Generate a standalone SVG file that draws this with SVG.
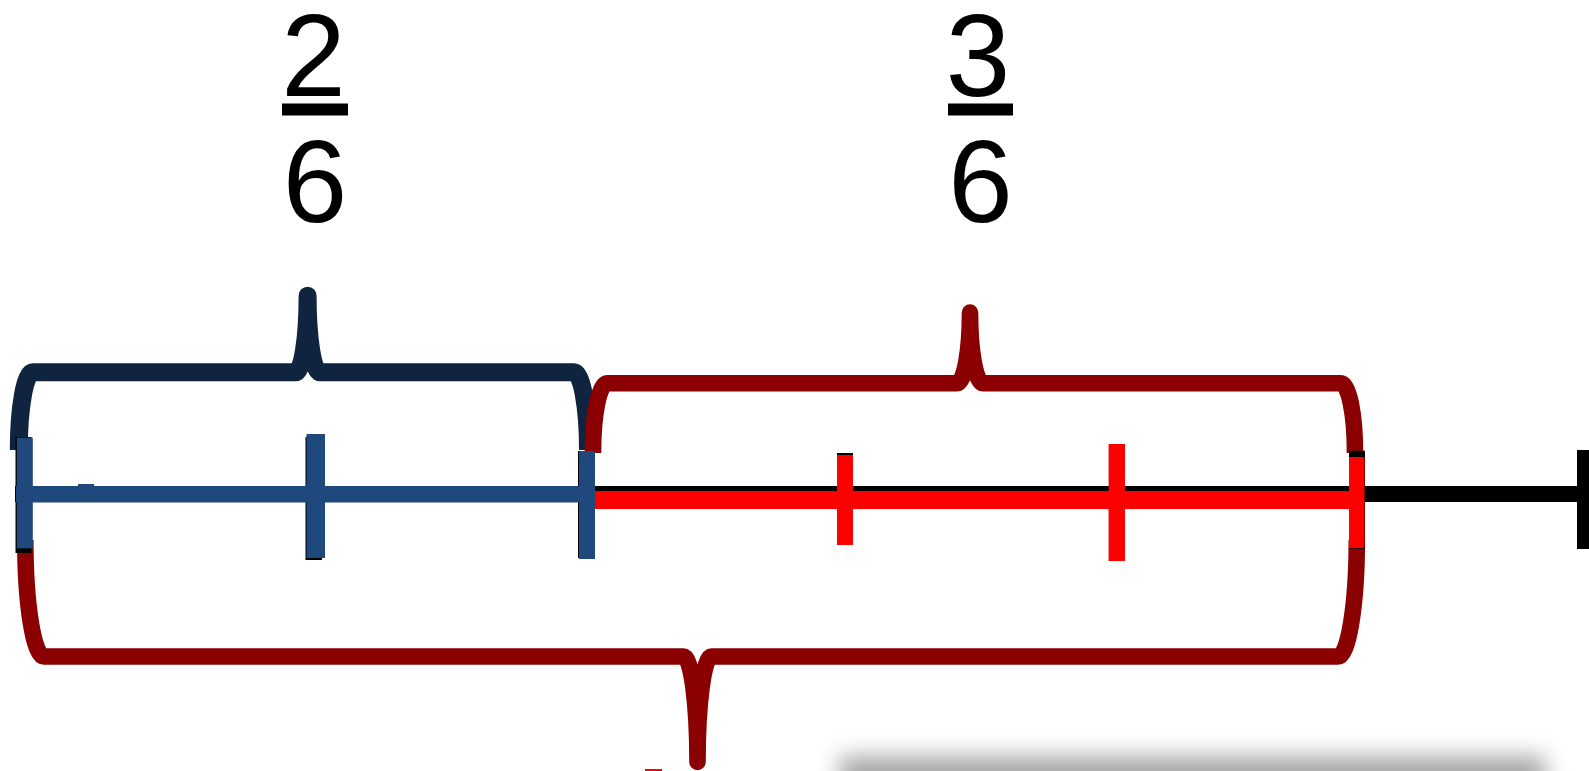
<svg xmlns="http://www.w3.org/2000/svg" width="1589" height="771" viewBox="0 0 1589 771">
<style>
.frac{font-family:"Liberation Sans",Arial,sans-serif;font-size:116px;fill:#000;text-anchor:middle}
.brace{fill:none;stroke-linejoin:round;stroke-linecap:butt}
.navy{stroke:#10243F;stroke-width:18}
.dred{stroke:#8B0000;stroke-width:16.6}
.blk{fill:#000}
.blu{fill:#1F497D}
.red{fill:#FF0000}
</style>
<defs>
<filter id="sh" x="-20%" y="-200%" width="140%" height="500%"><feGaussianBlur stdDeviation="11"/></filter>
</defs>
<rect width="1589" height="771" fill="#fff"/>
<g id="shadow"><rect x="840" y="756" width="705" height="50" fill="#6e6e6e" opacity="0.6" filter="url(#sh)"/></g>
<g id="label-2-6">
<text class="frac" x="313.5" y="96">2</text>
<rect x="282" y="103.5" width="66" height="12" fill="#000"/>
<text class="frac" x="315" y="222">6</text>
</g>
<g id="label-3-6">
<text class="frac" x="978" y="96">3</text>
<rect x="948" y="103.5" width="65" height="12" fill="#000"/>
<text class="frac" x="980.5" y="222">6</text>
</g>
<g id="connectors">
<path id="brace-bottom" class="brace dred" d="M25.3 540 A18.7 116.5 0 0 0 44 656.5 H683.5 A14 105.5 0 0 1 697.5 762 A14 105.5 0 0 1 711.5 656.5 H1338 A18.8 116.5 0 0 0 1356.8 540"/>
<path id="brace-blue" class="brace navy" d="M18.8 450 A14 77.7 0 0 1 32.8 372.3 H295.6 A12 76.6 0 0 0 307.6 295.7 A12 76.6 0 0 0 319.6 372.3 H574 A14 77.7 0 0 1 588 450"/>
<path id="brace-red" class="brace dred" d="M593 453 A14 69.7 0 0 1 607 383.3 H957 A13 70.7 0 0 0 970 312.6 A13 70.7 0 0 0 983 383.3 H1341 A14 69.7 0 0 1 1355 453"/>
</g>
<g id="number-line">
<rect class="blk" x="15" y="486" width="1565" height="16"/>
<rect class="blk" x="1577" y="450" width="12" height="99"/>
<rect class="blk" x="15.5" y="437" width="16" height="116"/>
<rect class="blk" x="305.5" y="437" width="16.5" height="123"/>
<rect class="blk" x="578" y="451" width="16" height="107"/>
<rect class="blk" x="837" y="453" width="16" height="92"/>
<rect class="blk" x="1349" y="450.7" width="16" height="98"/>
</g>
<g id="blue-segment">
<rect class="blu" x="16" y="486" width="579" height="16.5"/>
<rect class="blu" x="78" y="484" width="16" height="3"/>
<rect class="blu" x="16.8" y="437.7" width="16" height="110.6"/>
<rect class="blu" x="306.5" y="434" width="18.5" height="124"/>
<rect class="blu" x="579" y="451" width="16" height="108"/>
</g>
<g id="red-segment">
<rect class="red" x="595" y="491" width="769" height="18"/>
<rect class="red" x="837" y="455" width="16" height="90"/>
<rect class="red" x="1108.6" y="444" width="16.4" height="117"/>
<rect class="red" x="1349" y="457" width="15.5" height="91"/>
<rect class="red" x="645" y="769" width="17" height="2"/>
</g>
</svg>
